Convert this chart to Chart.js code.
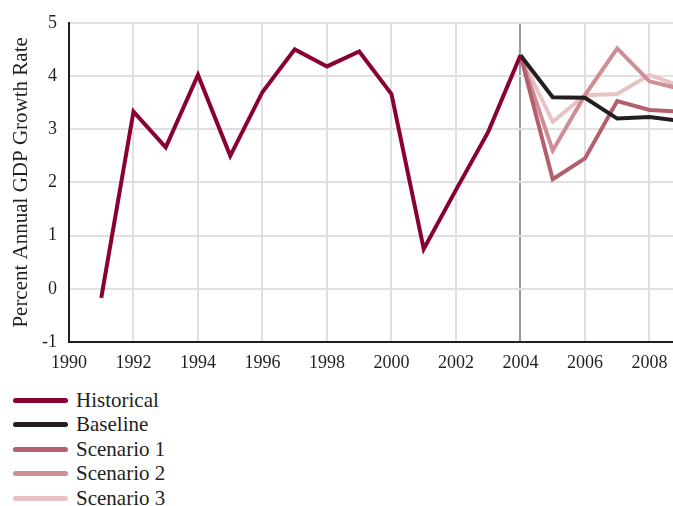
<!DOCTYPE html>
<html>
<head>
<meta charset="utf-8">
<script src="https://cdn.jsdelivr.net/npm/chart.js@4/dist/chart.umd.min.js"></script>
<style>
  body { margin: 0; background: #fff; font-family: "Liberation Serif", serif; }
  #wrap { width: 673px; height: 380px; position: relative; }
  #legend { margin: 0; padding: 8px 0 0 13px; list-style: none; }
  #legend li { height: 24.5px; display: flex; align-items: center; font-size: 21px; color: #231f20; }
  #legend span.swatch { display: inline-block; width: 55px; height: 5px; border-radius: 3px; margin-right: 8px; }
</style>
</head>
<body>
<div id="wrap"><canvas id="gdpChart" width="673" height="380"></canvas></div>
<ul id="legend"></ul>
<script>
const historicalYears = [1991, 1992, 1993, 1994, 1995, 1996, 1997, 1998, 1999, 2000, 2001, 2002, 2003, 2004];
const historical = [-0.17, 3.33, 2.66, 4.02, 2.5, 3.7, 4.5, 4.18, 4.46, 3.66, 0.75, 1.86, 2.95, 4.39];
const forecastYears = [2004, 2005, 2006, 2007, 2008, 2009];
const baseline = [4.39, 3.6, 3.59, 3.2, 3.23, 3.15];
const scenario1 = [4.39, 2.06, 2.45, 3.53, 3.36, 3.33];
const scenario2 = [4.39, 2.6, 3.64, 4.52, 3.9, 3.75];
const scenario3 = [4.39, 3.14, 3.64, 3.66, 4.02, 3.8];

const pts = (xs, ys) => xs.map((x, i) => ({ x: x, y: ys[i] }));

window.onload = (event) => {
  const ctx = document.getElementById('gdpChart').getContext('2d');
  const gdpChart = new Chart(ctx, {
    type: 'line',
    data: {
      datasets: [
        { label: 'Historical', data: pts(historicalYears, historical), borderColor: '#8a0035' },
        { label: 'Baseline', data: pts(forecastYears, baseline), borderColor: '#231f20' },
        { label: 'Scenario 1', data: pts(forecastYears, scenario1), borderColor: '#b35f6d' },
        { label: 'Scenario 2', data: pts(forecastYears, scenario2), borderColor: '#cf8e95' },
        { label: 'Scenario 3', data: pts(forecastYears, scenario3), borderColor: '#e8c3c5' }
      ]
    },
    options: {
      responsive: false,
      animation: false,
      layout: { padding: { top: 19, right: 0, left: 0, bottom: 0 } },
      elements: {
        line: { borderWidth: 4, tension: 0, fill: false, borderJoinStyle: 'miter' },
        point: { radius: 0, hoverRadius: 0 }
      },
      plugins: { legend: { display: false }, tooltip: { enabled: false } },
      scales: {
        x: {
          type: 'linear',
          min: 1990,
          max: 2008.73,
          afterFit: (s) => { s.height = 38; s.paddingLeft = 0; s.paddingRight = 0; },
          border: { color: '#231f20', width: 2 },
          grid: {
            drawTicks: false,
            lineWidth: 2,
            color: (c) => c.tick && c.tick.value === 2004 ? '#9a9a9a' : '#e0e0e0'
          },
          ticks: {
            stepSize: 2,
            includeBounds: false,
            padding: 10,
            color: '#231f20',
            font: { family: 'Liberation Serif', size: 18 },
            callback: (v) => String(v)
          }
        },
        y: {
          min: -1,
          max: 5,
          afterFit: (s) => { s.width = 69; },
          border: { color: '#231f20', width: 2 },
          grid: { drawTicks: false, lineWidth: 2, color: '#e0e0e0' },
          ticks: {
            stepSize: 1,
            padding: 12,
            color: '#231f20',
            font: { family: 'Liberation Serif', size: 18 }
          },
          title: {
            display: true,
            text: 'Percent Annual GDP Growth Rate',
            color: '#231f20',
            font: { family: 'Liberation Serif', size: 21 },
            padding: { top: 9, bottom: 0 }
          }
        }
      }
    }
  });

  const legend = document.getElementById('legend');
  gdpChart.data.datasets.forEach((ds) => {
    const li = document.createElement('li');
    const sw = document.createElement('span');
    sw.className = 'swatch';
    sw.style.background = ds.borderColor;
    li.appendChild(sw);
    li.appendChild(document.createTextNode(ds.label));
    legend.appendChild(li);
  });
};
</script>
</body>
</html>
